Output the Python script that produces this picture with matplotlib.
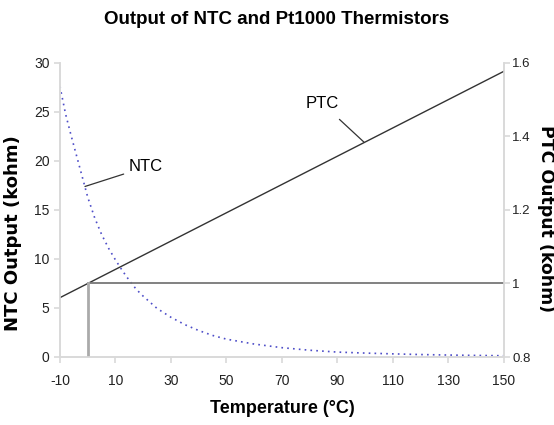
import matplotlib.pyplot as plt

plt.rcParams["axes.unicode_minus"] = False

# Daten
ntc_temp = [-10, -8, -6, -4, -2, 0, 2.5, 5, 7.5, 10, 12.5, 15, 17.5, 20, 25, 30, 35, 40,
            45, 50, 60, 70, 80, 90, 100, 110, 120, 130, 140, 150]
ntc_kohm = [27.6, 24.8, 22.6, 20.5, 18.4, 16.3, 14.2, 12.5, 11.1, 9.9, 8.8, 7.8, 6.9,
            6.2, 4.95, 4.05, 3.3, 2.7, 2.2, 1.82, 1.32, 0.95, 0.69, 0.5, 0.4, 0.32,
            0.25, 0.2, 0.16, 0.13]
ptc_temp = [-10, 150]
ptc_kohm = [0.9615, 1.5775]
ref_temp = [0, 150]
ref_kohm = 1.0

x_ticks = list(range(-10, 151, 20))
ntc_ticks = [0, 5, 10, 15, 20, 25, 30]
ptc_ticks = [0.8, 1.0, 1.2, 1.4, 1.6]
ptc_labels = ["0.8", "1", "1.2", "1.4", "1.6"]

narrow = ["Liberation Sans Narrow", "Liberation Sans", "DejaVu Sans"]
grid_c = "#d9d9d9"

fig = plt.figure(figsize=(5.54, 4.25), dpi=100)
ax = fig.add_axes([0.1083, 0.16, 0.8014, 0.6918])
ax2 = ax.twinx()

# NTC
ax.plot(ntc_temp, ntc_kohm, linestyle=(0, (1, 2.5)), color="#4d4dc8", linewidth=1.2)
ax.set_xlim(-10, 150)
ax.set_ylim(0, 30)

# PTC und Referenzlinien
ax2.plot(ptc_temp, ptc_kohm, color="#333333", linewidth=1.0)
ax2.plot(ref_temp, [ref_kohm, ref_kohm], color="#777777", linewidth=1.3)
ax2.plot([ref_temp[0], ref_temp[0]], [0.8, ref_kohm], color="#aaaaaa", linewidth=2.0)
ax2.set_ylim(0.8, 1.6)

for a in (ax, ax2):
    a.spines["top"].set_visible(False)
    for s in ("left", "right", "bottom"):
        a.spines[s].set_color(grid_c)
        a.spines[s].set_linewidth(1.2)
    a.tick_params(colors=grid_c, length=4, width=1.2, labelcolor="#222222", labelsize=10)

ax.set_xticks(x_ticks)
ax.set_yticks(ntc_ticks)
ax2.set_yticks(ptc_ticks)
ax2.set_yticklabels(ptc_labels)
ax.tick_params(axis="x", pad=8)
ax2.tick_params(axis="y", pad=2, labelsize=9.5)
for lbl in ax.get_xticklabels() + ax.get_yticklabels() + ax2.get_yticklabels():
    lbl.set_family(narrow)

ax.set_ylabel("NTC Output (kohm)", fontsize=13, fontweight="bold", family="DejaVu Sans")
ax.yaxis.set_label_coords(-0.086, 0.42)
ax2.set_ylabel("PTC Output (kohm)", fontsize=12.5, fontweight="bold", family="DejaVu Sans",
               rotation=270, va="center")
ax2.yaxis.set_label_coords(1.095, 0.47)
ax.set_xlabel("Temperature (°C)", fontsize=13, fontweight="bold", family=narrow, labelpad=9)
fig.suptitle("Output of NTC and Pt1000 Thermistors", fontsize=13.5, fontweight="bold",
             family=narrow, x=0.5, y=0.975)

# Beschriftungen
ax.annotate("NTC", xy=(-1, 17.4), xytext=(14.9, 19.4), fontsize=12, family=narrow,
            va="center", ha="left",
            arrowprops=dict(arrowstyle="-", color="#333333", lw=0.9, shrinkA=2, shrinkB=0))
ax2.annotate("PTC", xy=(99.5, 1.385), xytext=(84.5, 1.49), fontsize=12, family=narrow,
             va="center", ha="center",
             arrowprops=dict(arrowstyle="-", color="#333333", lw=0.9, shrinkA=6, shrinkB=0))

plt.savefig("out.png", dpi=100)
plt.close()
